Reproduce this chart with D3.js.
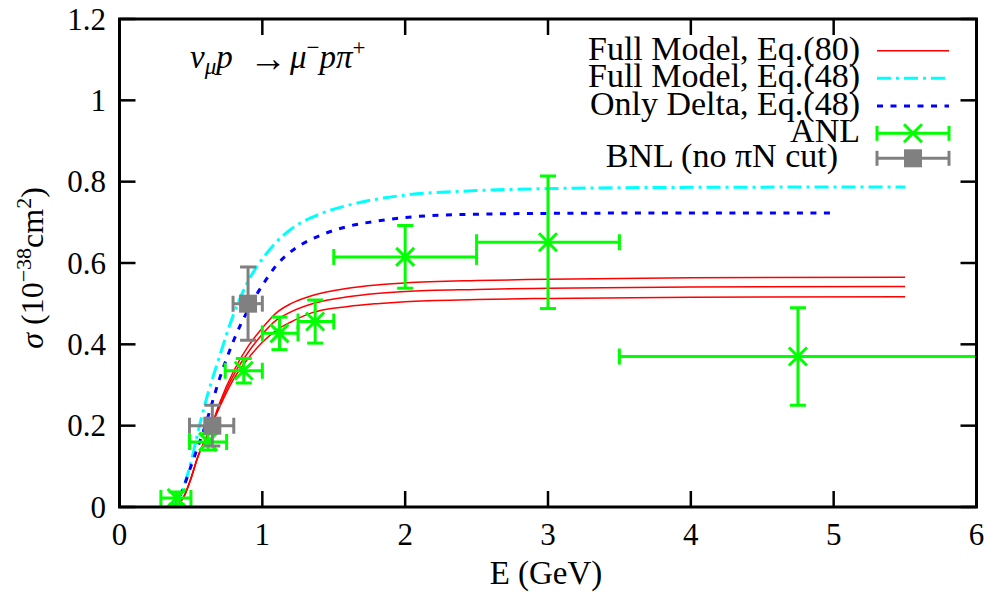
<!DOCTYPE html>
<html>

<head>
    <meta charset="utf-8">
    <style>
        body {
            margin: 0;
            background: #fff;
        }

        svg {
            display: block;
        }
    </style>
</head>

<body>
    <svg width="991" height="592"></svg>

    <script src="https://d3js.org/d3.v7.min.js"></script>

    <script>
        // ---- data ----
        const xTicks = [0, 1, 2, 3, 4, 5, 6]
        const yTicks = [0, 0.2, 0.4, 0.6, 0.8, 1.0, 1.2]
        const yTickLabels = ["0", "0.2", "0.4", "0.6", "0.8", "1", "1.2"]

        // Full Model, Eq.(80): three red curves (band)
        const eRed = [0.39, 0.45, 0.5, 0.55, 0.6, 0.65, 0.7, 0.8, 0.9, 1.0, 1.1, 1.2, 1.35, 1.6, 1.8, 2.0, 2.5, 3.0, 4.0, 5.5]
        const redUpper = [0, 0.025, 0.07, 0.125, 0.165, 0.205, 0.255, 0.335, 0.395, 0.44, 0.478, 0.5, 0.52, 0.538, 0.546, 0.551, 0.557, 0.56, 0.564, 0.565]
        const redMiddle = [0, 0.025, 0.07, 0.125, 0.165, 0.205, 0.25, 0.325, 0.38, 0.425, 0.46, 0.48, 0.5, 0.517, 0.525, 0.53, 0.535, 0.538, 0.541, 0.542]
        const redLower = [0, 0.025, 0.07, 0.125, 0.165, 0.205, 0.245, 0.315, 0.365, 0.405, 0.435, 0.455, 0.478, 0.493, 0.5, 0.505, 0.51, 0.513, 0.516, 0.517]

        // Full Model, Eq.(48)
        const eCyan = [0.37, 0.4, 0.45, 0.5, 0.56, 0.6, 0.7, 0.8, 0.9, 1.0, 1.1, 1.2, 1.4, 1.6, 1.8, 2.0, 2.5, 3.0, 4.0, 5.5]
        const cyanFull48 = [0, 0.012, 0.05, 0.11, 0.2, 0.255, 0.37, 0.475, 0.555, 0.61, 0.652, 0.683, 0.72, 0.742, 0.757, 0.767, 0.778, 0.783, 0.786, 0.787]

        // Only Delta, Eq.(48)
        const eBlue = [0.38, 0.41, 0.45, 0.5, 0.6, 0.7, 0.8, 0.9, 1.0, 1.1, 1.2, 1.4, 1.6, 1.8, 2.0, 2.5, 3.0, 4.0, 5.0]
        const blueDelta48 = [0, 0.017, 0.05, 0.1, 0.2, 0.315, 0.41, 0.485, 0.545, 0.595, 0.628, 0.667, 0.69, 0.703, 0.712, 0.72, 0.722, 0.723, 0.723]

        // ANL data
        const anlE = [0.40, 0.62, 0.87, 1.12, 1.37, 2.0, 3.0, 4.75]
        const anlSigma = [0.022, 0.16, 0.335, 0.427, 0.456, 0.615, 0.651, 0.37]
        const anlElo = [0.29, 0.49, 0.74, 1.0, 1.25, 1.5, 2.5, 3.5]
        const anlEhi = [0.5, 0.75, 1.0, 1.25, 1.5, 2.5, 3.5, 6.0]
        const anlErr = [0.015, 0.02, 0.03, 0.04, 0.053, 0.077, 0.163, 0.12]

        // BNL data (no piN cut)
        const bnlE = [0.65, 0.9]
        const bnlSigma = [0.2, 0.5]
        const bnlElo = [0.49, 0.795]
        const bnlEhi = [0.80, 1.0]
        const bnlErr = [0.05, 0.09]

        const legendLabels = ["Full Model, Eq.(80)", "Full Model, Eq.(48)", "Only Delta, Eq.(48)", "ANL", "BNL (no πN cut)"]

        // ---- layout ----
        let margin = { top: 19, right: 14.5, bottom: 85, left: 119.5 }
        let width = 991
        let height = 592
        let serif = "'Liberation Serif'"

        let svg = d3.select("svg")

        let x = d3.scaleLinear()
            .domain([0, 6])
            .range([margin.left, width - margin.right])

        let y = d3.scaleLinear()
            .domain([0, 1.2])
            .range([height - margin.bottom, margin.top])

        svg.append("clipPath")
            .attr("id", "plot-clip")
            .append("rect")
            .attr("x", x(0))
            .attr("y", y(1.2))
            .attr("width", x(6) - x(0))
            .attr("height", y(0) - y(1.2))

        let plot = svg.append("g").attr("clip-path", "url(#plot-clip)")

        let line = d3.line()
            .x(d => x(d[0]))
            .y(d => y(d[1]))
            .curve(d3.curveMonotoneX)

        // red band
        ;[redUpper, redMiddle, redLower].forEach(vals => {
            plot.append("path")
                .datum(eRed.map((e, i) => [e, vals[i]]))
                .attr("d", line)
                .attr("fill", "none")
                .attr("stroke", "#ff0000")
                .attr("stroke-width", 1.5)
        })

        plot.append("path")
            .datum(eCyan.map((e, i) => [e, cyanFull48[i]]))
            .attr("d", line)
            .attr("fill", "none")
            .attr("stroke", "#00ffff")
            .attr("stroke-width", 3)
            .attr("stroke-dasharray", "14,5,3,5")

        plot.append("path")
            .datum(eBlue.map((e, i) => [e, blueDelta48[i]]))
            .attr("d", line)
            .attr("fill", "none")
            .attr("stroke", "#0000ff")
            .attr("stroke-width", 3)
            .attr("stroke-dasharray", "6,7.5")

        const cap = 8

        // draws x and y error bars with caps
        function errorBars(g, e, s, elo, ehi, err, color) {
            e.forEach((ev, i) => {
                let cx = x(ev), cy = y(s[i])
                let segs = [
                    [x(elo[i]), cy, x(ehi[i]), cy],
                    [x(elo[i]), cy - cap, x(elo[i]), cy + cap],
                    [x(ehi[i]), cy - cap, x(ehi[i]), cy + cap],
                    [cx, y(s[i] - err[i]), cx, y(s[i] + err[i])],
                    [cx - cap, y(s[i] - err[i]), cx + cap, y(s[i] - err[i])],
                    [cx - cap, y(s[i] + err[i]), cx + cap, y(s[i] + err[i])]
                ]
                g.selectAll(null)
                    .data(segs)
                    .join("line")
                    .attr("x1", d => d[0]).attr("y1", d => d[1])
                    .attr("x2", d => d[2]).attr("y2", d => d[3])
                    .attr("stroke", color)
                    .attr("stroke-width", 3)
            })
        }

        function crossMarker(g, cx, cy, color) {
            let h = 9
            g.append("path")
                .attr("d", `M${cx - h},${cy - h}L${cx + h},${cy + h}M${cx - h},${cy + h}L${cx + h},${cy - h}`)
                .attr("stroke", color)
                .attr("stroke-width", 3)
        }

        let anlG = plot.append("g")
        errorBars(anlG, anlE, anlSigma, anlElo, anlEhi, anlErr, "#00ff00")
        anlE.forEach((e, i) => crossMarker(anlG, x(e), y(anlSigma[i]), "#00ff00"))

        let bnlG = plot.append("g")
        errorBars(bnlG, bnlE, bnlSigma, bnlElo, bnlEhi, bnlErr, "#808080")
        bnlG.selectAll("rect")
            .data(bnlE)
            .join("rect")
            .attr("x", d => x(d) - 9)
            .attr("y", (d, i) => y(bnlSigma[i]) - 9)
            .attr("width", 18)
            .attr("height", 18)
            .attr("fill", "#808080")

        // ---- axes: inside ticks, mirrored ----
        let tickLen = 16
        let axes = svg.append("g").attr("stroke", "#000").attr("stroke-width", 2.5)

        xTicks.forEach(t => {
            axes.append("line").attr("x1", x(t)).attr("x2", x(t)).attr("y1", y(0)).attr("y2", y(0) - tickLen)
            axes.append("line").attr("x1", x(t)).attr("x2", x(t)).attr("y1", y(1.2)).attr("y2", y(1.2) + tickLen)
        })
        yTicks.forEach(t => {
            axes.append("line").attr("x1", x(0)).attr("x2", x(0) + tickLen).attr("y1", y(t)).attr("y2", y(t))
            axes.append("line").attr("x1", x(6)).attr("x2", x(6) - tickLen).attr("y1", y(t)).attr("y2", y(t))
        })

        axes.append("rect")
            .attr("x", x(0))
            .attr("y", y(1.2))
            .attr("width", x(6) - x(0))
            .attr("height", y(0) - y(1.2))
            .attr("fill", "none")
            .attr("stroke-width", 3)

        svg.append("g")
            .selectAll("text")
            .data(xTicks)
            .join("text")
            .attr("x", d => x(d))
            .attr("y", 545)
            .attr("text-anchor", "middle")
            .style("font-size", "31px")
            .text(d => d)

        svg.append("g")
            .selectAll("text")
            .data(yTicks)
            .join("text")
            .attr("x", 106)
            .attr("y", d => y(d) + 10.5)
            .attr("text-anchor", "end")
            .style("font-size", "31px")
            .text((d, i) => yTickLabels[i])

        // axis titles
        svg.append("text")
            .attr("x", 546)
            .attr("y", 584)
            .attr("text-anchor", "middle")
            .style("font-size", "33px")
            .text("E (GeV)")

        let ylab = svg.append("text")
            .attr("transform", "translate(43,268) rotate(-90)")
            .attr("text-anchor", "middle")
            .style("font-size", "32px")
        ylab.append("tspan").style("font-style", "italic").text("σ")
        ylab.append("tspan").text(" (10")
        ylab.append("tspan").style("font-size", "22px").attr("dy", -12).text("−38")
        ylab.append("tspan").attr("dy", 12).text("cm")
        ylab.append("tspan").style("font-size", "22px").attr("dy", -12).text("2")
        ylab.append("tspan").attr("dy", 12).text(")")

        // reaction label
        let title = svg.append("text")
            .attr("x", 190)
            .attr("y", 68)
            .style("font-size", "33px")
            .style("font-style", "italic")
        title.append("tspan").text("ν")
        title.append("tspan").style("font-size", "23px").attr("dy", 6).text("μ")
        title.append("tspan").attr("dy", -6).text("p")
        title.append("tspan").attr("x", 249).attr("dy", 3).style("font-size", "38px").style("font-style", "normal").text("→")
        title.append("tspan").attr("x", 290).attr("dy", -3).text("μ")
        title.append("tspan").style("font-size", "23px").style("font-style", "normal").attr("dy", -13).text("−")
        title.append("tspan").attr("dy", 13).text("pπ")
        title.append("tspan").style("font-size", "23px").style("font-style", "normal").attr("dy", -13).text("+")

        // ---- legend ----
        const legendRows = [50.7, 78.3, 106, 133.3, 158.3]
        let lx1 = 877, lx2 = 949, lmid = (lx1 + lx2) / 2

        let legend = svg.append("g")
        legend.selectAll("text")
            .data(legendLabels)
            .join("text")
            .attr("x", (d, i) => i === 4 ? 838 : 860)
            .attr("y", (d, i) => legendRows[i] + 9)
            .attr("text-anchor", "end")
            .style("font-size", "34px")
            .text(d => d)

        legend.append("line").attr("x1", lx1).attr("x2", lx2).attr("y1", legendRows[0]).attr("y2", legendRows[0])
            .attr("stroke", "#ff0000").attr("stroke-width", 1.5)
        legend.append("line").attr("x1", lx1).attr("x2", lx2).attr("y1", legendRows[1]).attr("y2", legendRows[1])
            .attr("stroke", "#00ffff").attr("stroke-width", 3).attr("stroke-dasharray", "14,5,3,5")
        legend.append("line").attr("x1", lx1).attr("x2", lx2).attr("y1", legendRows[2]).attr("y2", legendRows[2])
            .attr("stroke", "#0000ff").attr("stroke-width", 3).attr("stroke-dasharray", "6,7.5")

        ;[[3, "#00ff00"], [4, "#808080"]].forEach(([r, c]) => {
            let ry = legendRows[r]
            legend.append("line").attr("x1", lx1).attr("x2", lx2).attr("y1", ry).attr("y2", ry).attr("stroke", c).attr("stroke-width", 3)
            legend.append("line").attr("x1", lx1).attr("x2", lx1).attr("y1", ry - 7.5).attr("y2", ry + 7.5).attr("stroke", c).attr("stroke-width", 3)
            legend.append("line").attr("x1", lx2).attr("x2", lx2).attr("y1", ry - 7.5).attr("y2", ry + 7.5).attr("stroke", c).attr("stroke-width", 3)
        })
        crossMarker(legend, lmid, legendRows[3], "#00ff00")
        legend.append("rect").attr("x", lmid - 9).attr("y", legendRows[4] - 9).attr("width", 18).attr("height", 18).attr("fill", "#808080")

        // serif font on every text
        svg.selectAll("text")
            .style("font-family", serif)
            .style("fill", "#000")
    </script>
</body>

</html>
